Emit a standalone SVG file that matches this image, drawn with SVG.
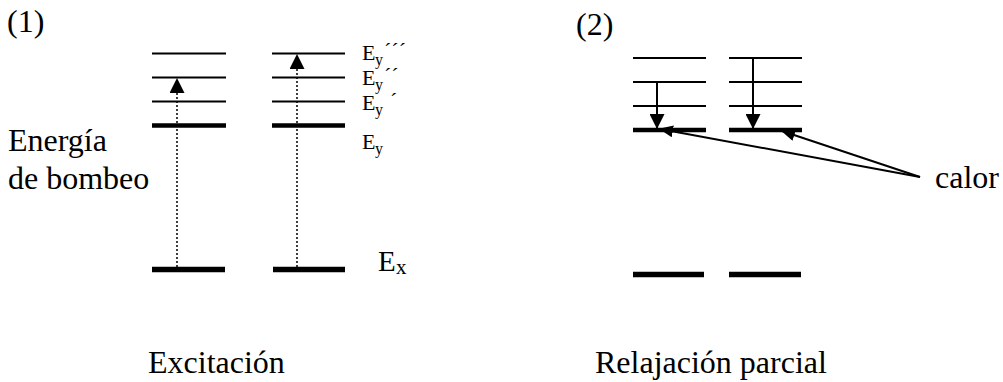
<svg xmlns="http://www.w3.org/2000/svg" width="1003" height="382" viewBox="0 0 1003 382">
<style>
.big{font-size:32px}
.lvl{font-size:22px}
.sub{font-size:16px}
.thin{stroke:#000;stroke-width:2}
.thick{stroke:#000;stroke-width:4.5}
.base{stroke:#000;stroke-width:5.5}
.dot{stroke:#000;stroke-width:1.5;stroke-dasharray:2 2}
.arr{stroke:#000;stroke-width:2;fill:none}
</style>
<defs>
<marker id="head" viewBox="0 0 15 15" markerWidth="15" markerHeight="15" refX="14" refY="7.5" orient="auto" markerUnits="userSpaceOnUse">
<path d="M0,0 L15,7.5 L0,15 Z" fill="#000"/>
</marker>
<marker id="head2" viewBox="0 0 14 12" markerWidth="14" markerHeight="12" refX="13" refY="6" orient="auto" markerUnits="userSpaceOnUse">
<path d="M0,0 L14,6 L0,12 Z" fill="#000"/>
</marker>
</defs>
<rect width="1003" height="382" fill="#fff"/>

<g font-family="'Liberation Serif', 'DejaVu Serif', serif" fill="#000">
<g id="labels-left">
<text class="big" x="7" y="32">(1)</text>
<text class="big" x="8" y="151">Energía</text>
<text class="big" x="8" y="189">de bombeo</text>
<text class="big" x="148" y="373">Excitación</text>
</g>

<g id="level-labels">
<text class="lvl" x="362" y="60">E</text><text class="sub" x="375" y="65">y</text><text class="lvl" x="384" y="58">´´´</text>
<text class="lvl" x="362" y="85">E</text><text class="sub" x="375" y="90">y</text><text class="lvl" x="384" y="83">´´</text>
<text class="lvl" x="362" y="110">E</text><text class="sub" x="375" y="115">y</text><text class="lvl" x="390" y="108">´</text>
<text class="lvl" x="362" y="149">E</text><text class="sub" x="375" y="154">y</text>
<text x="378" y="271" font-size="29">E</text><text x="396" y="274" font-size="21">x</text>
</g>

<g id="labels-right">
<text class="big" x="576" y="35">(2)</text>
<text class="big" x="935" y="188">calor</text>
<text class="big" x="595" y="373">Relajación parcial</text>
</g>
</g>

<g id="levels-left-a">
<line class="thin" x1="152" y1="53.5" x2="226" y2="53.5"/>
<line class="thin" x1="152" y1="77.5" x2="226" y2="77.5"/>
<line class="thin" x1="152" y1="101.5" x2="226" y2="101.5"/>
<line class="thick" x1="152" y1="125.5" x2="226" y2="125.5"/>
<line class="base" x1="152" y1="269.5" x2="225" y2="269.5"/>
</g>
<g id="levels-left-b">
<line class="thin" x1="272" y1="53.5" x2="345" y2="53.5"/>
<line class="thin" x1="272" y1="77.5" x2="345" y2="77.5"/>
<line class="thin" x1="272" y1="101.5" x2="345" y2="101.5"/>
<line class="thick" x1="272" y1="125.5" x2="345" y2="125.5"/>
<line class="base" x1="273" y1="269.5" x2="345" y2="269.5"/>
</g>

<g id="levels-right-a">
<line class="thin" x1="633" y1="58" x2="706" y2="58"/>
<line class="thin" x1="633" y1="82" x2="706" y2="82"/>
<line class="thin" x1="633" y1="106" x2="706" y2="106"/>
<line class="thick" x1="633" y1="130" x2="706" y2="130"/>
<line class="base" x1="633" y1="274.5" x2="704" y2="274.5"/>
</g>
<g id="levels-right-b">
<line class="thin" x1="729" y1="58" x2="802" y2="58"/>
<line class="thin" x1="729" y1="82" x2="802" y2="82"/>
<line class="thin" x1="729" y1="106" x2="802" y2="106"/>
<line class="thick" x1="729" y1="130" x2="802" y2="130"/>
<line class="base" x1="729" y1="274.5" x2="801" y2="274.5"/>
</g>

<g id="connectors">
<line class="dot" x1="177" y1="267" x2="177" y2="79" marker-end="url(#head)"/>
<line class="dot" x1="297" y1="267" x2="297" y2="55" marker-end="url(#head)"/>
<line class="arr" x1="657" y1="82" x2="657" y2="128" marker-end="url(#head)"/>
<line class="arr" x1="753" y1="58" x2="753" y2="128" marker-end="url(#head)"/>
<line class="arr" x1="920" y1="177" x2="660" y2="129" marker-end="url(#head2)"/>
<line class="arr" x1="920" y1="177" x2="782" y2="131" marker-end="url(#head2)"/>
</g>
</svg>
